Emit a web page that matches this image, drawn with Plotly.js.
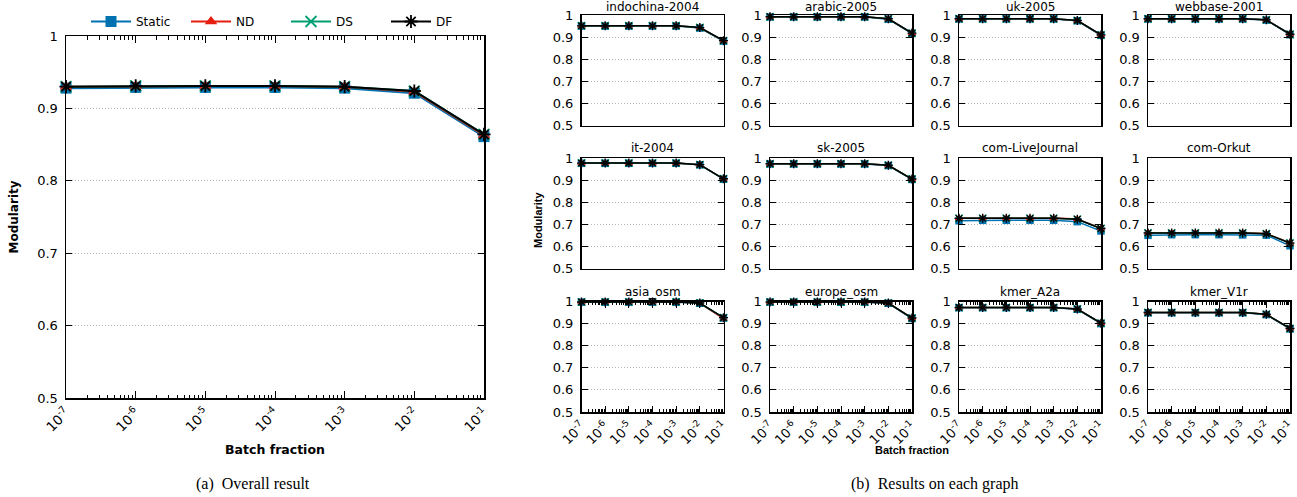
<!DOCTYPE html>
<html>
<head>
<meta charset="utf-8">
<script src="https://cdn.plot.ly/plotly-3.0.1.min.js"></script>
<style>
  html, body { margin: 0; padding: 0; background: #fff; }
  #chart { width: 1297px; height: 497px; }
</style>
</head>
<body>
<div id="chart"></div>
<script>
// ---------- Data ----------
const batchFractions = [1e-7, 1e-6, 1e-5, 1e-4, 1e-3, 1e-2, 1e-1];
const xTickLabels = ['10<sup>-7</sup>', '10<sup>-6</sup>', '10<sup>-5</sup>', '10<sup>-4</sup>',
                     '10<sup>-3</sup>', '10<sup>-2</sup>', '10<sup>-1</sup>'];
const seriesNames = ['Static', 'ND', 'DS', 'DF'];

// (a) Overall result
const overallStatic = [0.928, 0.929, 0.929, 0.929, 0.928, 0.921, 0.861];
const overallND     = [0.930, 0.931, 0.931, 0.931, 0.930, 0.923, 0.863];
const overallDS     = [0.930, 0.931, 0.931, 0.931, 0.930, 0.924, 0.864];
const overallDF     = [0.930, 0.931, 0.931, 0.931, 0.930, 0.924, 0.864];

// (b) Results on each graph
const graphNames = ['indochina-2004', 'arabic-2005', 'uk-2005', 'webbase-2001',
                    'it-2004', 'sk-2005', 'com-LiveJournal', 'com-Orkut',
                    'asia_osm', 'europe_osm', 'kmer_A2a', 'kmer_V1r'];

const graphStatic = [
  [0.950, 0.950, 0.950, 0.950, 0.950, 0.941, 0.882],
  [0.991, 0.991, 0.991, 0.991, 0.991, 0.981, 0.916],
  [0.982, 0.982, 0.982, 0.982, 0.982, 0.974, 0.908],
  [0.982, 0.982, 0.982, 0.982, 0.982, 0.977, 0.911],
  [0.976, 0.976, 0.976, 0.976, 0.976, 0.969, 0.904],
  [0.973, 0.973, 0.973, 0.973, 0.973, 0.966, 0.903],
  [0.716, 0.718, 0.718, 0.718, 0.718, 0.712, 0.670],
  [0.650, 0.653, 0.653, 0.653, 0.652, 0.651, 0.603],
  [0.997, 0.997, 0.997, 0.997, 0.997, 0.992, 0.925],
  [0.997, 0.997, 0.997, 0.997, 0.997, 0.992, 0.923],
  [0.972, 0.972, 0.972, 0.972, 0.972, 0.965, 0.900],
  [0.949, 0.949, 0.949, 0.949, 0.949, 0.941, 0.876]
];
const graphND = [
  [0.951, 0.951, 0.951, 0.951, 0.951, 0.943, 0.884],
  [0.992, 0.992, 0.992, 0.992, 0.992, 0.983, 0.918],
  [0.983, 0.983, 0.983, 0.983, 0.983, 0.975, 0.910],
  [0.983, 0.983, 0.983, 0.983, 0.983, 0.978, 0.913],
  [0.977, 0.977, 0.977, 0.977, 0.977, 0.970, 0.906],
  [0.974, 0.974, 0.974, 0.974, 0.974, 0.967, 0.905],
  [0.728, 0.728, 0.728, 0.728, 0.728, 0.724, 0.682],
  [0.662, 0.662, 0.662, 0.662, 0.662, 0.658, 0.616],
  [0.998, 0.998, 0.998, 0.998, 0.998, 0.993, 0.922],
  [0.998, 0.998, 0.998, 0.998, 0.998, 0.993, 0.925],
  [0.973, 0.973, 0.973, 0.973, 0.973, 0.966, 0.902],
  [0.950, 0.950, 0.950, 0.950, 0.950, 0.942, 0.878]
];
const graphDS = [
  [0.951, 0.951, 0.951, 0.951, 0.951, 0.943, 0.884],
  [0.992, 0.992, 0.992, 0.992, 0.992, 0.983, 0.918],
  [0.983, 0.983, 0.983, 0.983, 0.983, 0.975, 0.910],
  [0.983, 0.983, 0.983, 0.983, 0.983, 0.978, 0.913],
  [0.977, 0.977, 0.977, 0.977, 0.977, 0.970, 0.906],
  [0.974, 0.974, 0.974, 0.974, 0.974, 0.967, 0.905],
  [0.727, 0.727, 0.727, 0.727, 0.727, 0.723, 0.681],
  [0.661, 0.661, 0.661, 0.661, 0.661, 0.657, 0.615],
  [0.998, 0.998, 0.998, 0.998, 0.998, 0.993, 0.927],
  [0.998, 0.998, 0.998, 0.998, 0.998, 0.993, 0.925],
  [0.973, 0.973, 0.973, 0.973, 0.973, 0.966, 0.902],
  [0.950, 0.950, 0.950, 0.950, 0.950, 0.942, 0.878]
];
const graphDF = [
  [0.951, 0.951, 0.951, 0.951, 0.951, 0.943, 0.884],
  [0.992, 0.992, 0.992, 0.992, 0.992, 0.983, 0.918],
  [0.983, 0.983, 0.983, 0.983, 0.983, 0.975, 0.910],
  [0.983, 0.983, 0.983, 0.983, 0.983, 0.978, 0.913],
  [0.977, 0.977, 0.977, 0.977, 0.977, 0.970, 0.906],
  [0.974, 0.974, 0.974, 0.974, 0.974, 0.967, 0.905],
  [0.727, 0.727, 0.727, 0.727, 0.727, 0.723, 0.681],
  [0.661, 0.661, 0.661, 0.661, 0.661, 0.657, 0.615],
  [0.998, 0.998, 0.998, 0.998, 0.998, 0.993, 0.927],
  [0.998, 0.998, 0.998, 0.998, 0.998, 0.993, 0.925],
  [0.973, 0.973, 0.973, 0.973, 0.973, 0.966, 0.902],
  [0.950, 0.950, 0.950, 0.950, 0.950, 0.942, 0.878]
];

// ---------- Styles ----------
const W = 1297, H = 497;
const FONT = 'DejaVu Sans, Verdana, sans-serif';
const styles = [
  {color: '#0072b2', symbol: 'square'},
  {color: '#e51e10', symbol: 'triangle-up'},
  {color: '#009e73', symbol: 'x-thin-open'},
  {color: '#000000', symbol: 'asterisk-open'}
];

// minor tick positions 2..9 x 10^k (axis decoration, not data)
const minorTicks = [];
for (let k = -7; k < -1; k++) {
  for (let m = 2; m <= 9; m++) minorTicks.push(m * Math.pow(10, k));
}

function px2x(p) { return p / W; }
function py2y(p) { return 1 - p / H; }

const traces = [];
const annotations = [];
const layout = {
  width: W, height: H,
  margin: {l: 0, r: 0, t: 0, b: 0},
  paper_bgcolor: '#fff', plot_bgcolor: '#fff',
  font: {family: FONT, size: 13, color: '#000'},
  showlegend: true,
  legend: {
    orientation: 'h', x: px2x(86), y: py2y(7), xanchor: 'left', yanchor: 'top',
    font: {size: 12, family: FONT}, itemwidth: 40,
    entrywidth: 45, entrywidthmode: 'pixels', bgcolor: 'rgba(0,0,0,0)',
    traceorder: 'normal'
  },
  annotations: annotations
};

const EPS = 0.0005;
function logXAxis(domain, opts) {
  return Object.assign({
    type: 'log', range: [-7 - EPS, -1 + EPS], domain: domain,
    showline: true, linecolor: '#000', linewidth: 1.5, mirror: 'allticks',
    ticks: 'inside', ticklen: 7, tickwidth: 1, tickcolor: '#000',
    tickmode: 'array', tickvals: batchFractions, ticktext: xTickLabels,
    tickangle: -45, ticklabeloverflow: 'allow',
    tickfont: {size: 13.5, family: FONT},
    minor: {ticks: 'inside', ticklen: 3.5, tickcolor: '#000', tickwidth: 1,
            tickmode: 'array', tickvals: minorTicks, showgrid: false},
    showgrid: false, zeroline: false, fixedrange: true
  }, opts || {});
}
function linYAxis(domain, opts) {
  return Object.assign({
    range: [0.5, 1], domain: domain, dtick: 0.1, tick0: 0.5,
    showline: true, linecolor: '#000', linewidth: 1.5, mirror: 'allticks',
    ticks: 'inside', ticklen: 6, tickwidth: 1, tickcolor: '#000',
    tickfont: {size: 13, family: FONT}, ticklabelstandoff: 4,
    showgrid: true, gridcolor: '#b8b8b8', griddash: '1px,2px', gridwidth: 1,
    zeroline: false, fixedrange: true
  }, opts || {});
}

// ---------- (a) Overall ----------
const overallSeries = [overallStatic, overallND, overallDS, overallDF];
layout.xaxis = logXAxis([px2x(66), px2x(484)], {
  anchor: 'y',
  title: {text: '<b>Batch fraction</b>', font: {size: 12.5, family: FONT}, standoff: 11}
});
layout.yaxis = linYAxis([py2y(398), py2y(36)], {
  anchor: 'x',
  title: {text: '<b>Modularity</b>', font: {size: 12, family: FONT}, standoff: 16}
});
overallSeries.forEach((vals, i) => {
  traces.push({
    type: 'scatter', mode: 'lines+markers', name: seriesNames[i],
    x: batchFractions, y: vals, xaxis: 'x', yaxis: 'y', cliponaxis: false,
    line: {color: styles[i].color, width: 2},
    marker: {symbol: styles[i].symbol, color: styles[i].color, size: 11,
             line: {color: styles[i].color, width: (i >= 2) ? 1.8 : 0}},
    showlegend: true
  });
});

// ---------- (b) Each graph ----------
const colLeft = [581.5, 770, 959, 1148];
const colWidth = 142;
const rowTop = [15, 158, 301.5];
const rowHeight = 110.5;
const graphSeries = [graphStatic, graphND, graphDS, graphDF];

graphNames.forEach((gname, g) => {
  const r = Math.floor(g / 4), c = g % 4;
  const ax = g + 2;
  const xd = [px2x(colLeft[c]), px2x(colLeft[c] + colWidth)];
  const yd = [py2y(rowTop[r] + rowHeight), py2y(rowTop[r])];
  const bottom = (r === 2);
  layout['xaxis' + ax] = logXAxis(xd, bottom ? {anchor: 'y' + ax, ticklen: 6, tickfont: {size: 13, family: FONT}} :
    {anchor: 'y' + ax, ticks: '', showticklabels: false,
     minor: {ticks: '', tickmode: 'array', tickvals: minorTicks, showgrid: false}});
  layout['yaxis' + ax] = linYAxis(yd, {anchor: 'x' + ax});
  graphSeries.forEach((series, i) => {
    traces.push({
      type: 'scatter', mode: 'lines+markers', name: seriesNames[i],
      x: batchFractions, y: series[g], xaxis: 'x' + ax, yaxis: 'y' + ax, cliponaxis: false,
      line: {color: styles[i].color, width: 1.5},
      marker: {symbol: styles[i].symbol, color: styles[i].color, size: 7.5,
               line: {color: styles[i].color, width: (i >= 2) ? 1.4 : 0}},
      showlegend: false
    });
  });
  annotations.push({
    text: gname, xref: 'paper', yref: 'paper',
    x: px2x(colLeft[c] + colWidth / 2), y: py2y(rowTop[r]),
    xanchor: 'center', yanchor: 'bottom', yshift: r === 0 ? -1 : 1, showarrow: false,
    font: {size: 12, family: FONT}
  });
});

// shared labels for (b)
annotations.push({
  text: '<b>Modularity</b>', xref: 'paper', yref: 'paper',
  x: px2x(538), y: py2y(220), textangle: -90, showarrow: false,
  xanchor: 'center', yanchor: 'middle',
  font: {size: 11, family: 'Liberation Sans, Arial, sans-serif'}
});
annotations.push({
  text: '<b>Batch fraction</b>', xref: 'paper', yref: 'paper',
  x: px2x(912), y: py2y(450), showarrow: false,
  xanchor: 'center', yanchor: 'middle',
  font: {size: 11, family: 'Liberation Sans, Arial, sans-serif'}
});

// captions
annotations.push({
  text: '(a)  Overall result', xref: 'paper', yref: 'paper',
  x: px2x(253), y: py2y(484), showarrow: false, xanchor: 'center', yanchor: 'middle',
  font: {size: 16, family: 'Liberation Serif, Times New Roman, serif'}
});
annotations.push({
  text: '(b)  Results on each graph', xref: 'paper', yref: 'paper',
  x: px2x(935), y: py2y(484), showarrow: false, xanchor: 'center', yanchor: 'middle',
  font: {size: 16, family: 'Liberation Serif, Times New Roman, serif'}
});

Plotly.newPlot('chart', traces, layout, {staticPlot: true, displayModeBar: false});
</script>
</body>
</html>
